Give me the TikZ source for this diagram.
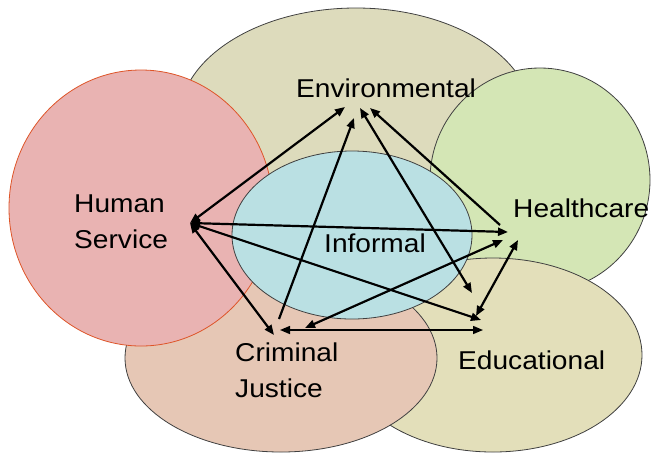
\documentclass[tikz,border=0pt]{standalone}
\usepackage{fontspec}
\setmainfont{Liberation Sans}[FakeStretch=1.09]
\usetikzlibrary{arrows.meta}

\definecolor{envfill}{RGB}{221,219,188}
\definecolor{hcfill}{RGB}{212,230,181}
\definecolor{edufill}{RGB}{227,223,186}
\definecolor{cjfill}{RGB}{230,199,181}
\definecolor{hsfill}{RGB}{233,179,178}
\definecolor{hsline}{RGB}{222,84,40}
\definecolor{inffill}{RGB}{186,224,227}

\tikzset{
  zone/.style={draw=black!75, line width=0.8pt},
  zonename/.style={anchor=base west, inner sep=0pt, align=left,
    font=\fontsize{25.8}{36}\selectfont},
  link/.style={<->, line width=2.2pt},
  oneway/.style={->, line width=2.2pt},
}

\begin{document}
\begin{tikzpicture}[x=1pt, y=-1pt, >={Triangle[length=10pt,width=8pt]}]
\useasboundingbox (0,0) rectangle (652,456);

% sectors
\filldraw[zone, fill=envfill] (356,120) ellipse [x radius=177, y radius=112];
\filldraw[zone, fill=hcfill] (540,180) ellipse [x radius=110, y radius=112];
\filldraw[zone, fill=edufill] (493,355) ellipse [x radius=149, y radius=97];
\filldraw[zone, fill=cjfill] (281,358) ellipse [x radius=156, y radius=94];
\filldraw[zone, draw=hsline, fill=hsfill] (141,208) ellipse [x radius=132, y radius=138];
\filldraw[zone, fill=inffill] (352,235) ellipse [x radius=120, y radius=84];

% base of the last line
\node[zonename] (env) at (296,97) {Environmental};
\node[zonename] (hsv) at (74,248) {Human\\Service};
\node[zonename] (hc) at (513,217) {Healthcare};
\node[zonename] (inf) at (324,252) {Informal};
\node[zonename] (cj) at (235,397) {Criminal\\Justice};
\node[zonename] (edu) at (458,369) {Educational};

% arrow ends
\coordinate (hs) at (190,223);
\coordinate (env-a) at (345,107);
\coordinate (env-b) at (354,118);
\coordinate (env-c) at (360,108);
\coordinate (env-d) at (370,108);
\coordinate (hc-a) at (508,232);
\coordinate (hc-b) at (503,240);
\coordinate (hc-c) at (518,240);
\coordinate (hc-d) at (500,225);
\coordinate (edu-a) at (472,293);
\coordinate (edu-b) at (481,320);
\coordinate (edu-c) at (476,316);
\coordinate (edu-d) at (483,330);
\coordinate (cj-a) at (274,335);
\coordinate (cj-b) at (279,319);
\coordinate (cj-c) at (305,328);
\coordinate (cj-d) at (280,330);

\draw[link] (hs) -- (env-a);
\draw[link] (hs) -- (hc-a);
\draw[link] (hs) -- (edu-b);
\draw[link] (hs) -- (cj-a);
\draw[oneway] (cj-b) -- (env-b);
\draw[link] (env-c) -- (edu-a);
\draw[oneway] (hc-d) -- (env-d);
\draw[link] (hc-b) -- (cj-c);
\draw[link] (hc-c) -- (edu-c);
\draw[link, line width=1.5pt] (cj-d) -- (edu-d);
\end{tikzpicture}
\end{document}
